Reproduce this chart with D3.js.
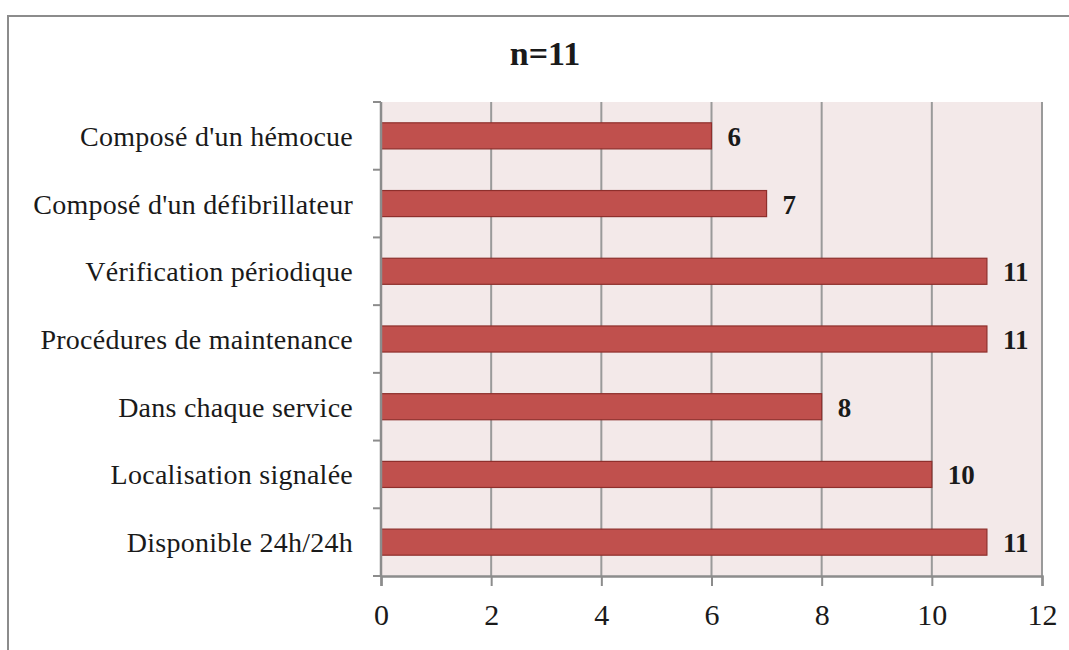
<!DOCTYPE html>
<html>
<head>
<meta charset="utf-8">
<script src="https://cdn.jsdelivr.net/npm/d3@7"></script>
<style>
  body { margin: 0; background: #fff; }
  text { font-family: "Liberation Serif", "Times New Roman", serif; fill: #1a1a1a; }
</style>
</head>
<body>
<div id="chart"></div>
<script>
'use strict';

const categories = [
    "Composé d'un hémocue",
    "Composé d'un défibrillateur",
    "Vérification périodique",
    "Procédures de maintenance",
    "Dans chaque service",
    "Localisation signalée",
    "Disponible 24h/24h"
];

const counts = [6, 7, 11, 11, 8, 10, 11];

const xTicks = [0, 2, 4, 6, 8, 10, 12];

const chartTitle = "n=11";

const width = 1069, height = 650;

const plot = { left: 381, right: 1042, top: 102, bottom: 576 };

const svg = d3.select("#chart")
    .append("svg")
    .attr("width", width)
    .attr("height", height);

// outer chart frame (runs off the right and bottom edges)
svg.append("rect")
    .attr("x", 8)
    .attr("y", 16)
    .attr("width", 1080)
    .attr("height", 660)
    .attr("fill", "none")
    .attr("stroke", "#8c8c8c")
    .attr("stroke-width", 2);

const x = d3.scaleLinear()
    .domain([0, 12])
    .range([plot.left, plot.right]);

const y = d3.scaleBand()
    .domain(categories)
    .range([plot.top, plot.bottom])
    .paddingInner(0.615)
    .paddingOuter(0.3075);

// plot background
svg.append("rect")
    .attr("x", plot.left)
    .attr("y", plot.top)
    .attr("width", plot.right - plot.left)
    .attr("height", plot.bottom - plot.top)
    .attr("fill", "#f3e9e9");

// vertical gridlines
svg.append("g")
    .selectAll("line")
    .data(xTicks.slice(1))
    .enter()
    .append("line")
    .attr("x1", d => x(d))
    .attr("x2", d => x(d))
    .attr("y1", plot.top)
    .attr("y2", plot.bottom)
    .attr("stroke", "#9a9a9a")
    .attr("stroke-width", 2);

// bars
svg.append("g")
    .selectAll("rect")
    .data(categories)
    .enter()
    .append("rect")
    .attr("x", x(0))
    .attr("y", d => y(d))
    .attr("width", (d, i) => x(counts[i]) - x(0))
    .attr("height", y.bandwidth())
    .attr("fill", "#c0504d")
    .attr("stroke", "#8e2f2c")
    .attr("stroke-width", 1.2);

// value labels
svg.append("g")
    .selectAll("text")
    .data(categories)
    .enter()
    .append("text")
    .attr("x", (d, i) => x(counts[i]) + 16)
    .attr("y", d => y(d) + y.bandwidth() / 2 + 10)
    .style("font-size", "27px")
    .style("font-weight", "bold")
    .text((d, i) => counts[i]);

// x axis
const xAxis = svg.append("g")
    .attr("transform", "translate(0," + plot.bottom + ")")
    .call(d3.axisBottom(x).tickValues(xTicks).tickSize(10).tickPadding(18));
xAxis.select(".domain").attr("stroke", "#8c8c8c").attr("stroke-width", 2.5);
xAxis.selectAll(".tick line").attr("stroke", "#8c8c8c").attr("stroke-width", 2);
xAxis.selectAll(".tick text")
    .style("font-size", "30px")
    .style("font-family", "'Liberation Serif', serif")
    .attr("fill", "#1a1a1a");

// y axis line and boundary ticks
const step = y.step();
const boundaries = d3.range(categories.length + 1).map(i => plot.top + i * step);

svg.append("line")
    .attr("x1", plot.left)
    .attr("x2", plot.left)
    .attr("y1", plot.top)
    .attr("y2", plot.bottom)
    .attr("stroke", "#8c8c8c")
    .attr("stroke-width", 2.5);

svg.append("g")
    .selectAll("line")
    .data(boundaries)
    .enter()
    .append("line")
    .attr("x1", plot.left - 8)
    .attr("x2", plot.left)
    .attr("y1", d => d)
    .attr("y2", d => d)
    .attr("stroke", "#8c8c8c")
    .attr("stroke-width", 2);

// category labels
svg.append("g")
    .selectAll("text")
    .data(categories)
    .enter()
    .append("text")
    .attr("x", plot.left - 28)
    .attr("y", d => y(d) + y.bandwidth() / 2 + 10)
    .style("text-anchor", "end")
    .style("font-size", "28px")
    .style("letter-spacing", "0.25px")
    .text(d => d);

// title
svg.append("text")
    .attr("x", 545)
    .attr("y", 65)
    .style("text-anchor", "middle")
    .style("font-size", "34px")
    .style("font-weight", "bold")
    .text(chartTitle);
</script>
</body>
</html>
